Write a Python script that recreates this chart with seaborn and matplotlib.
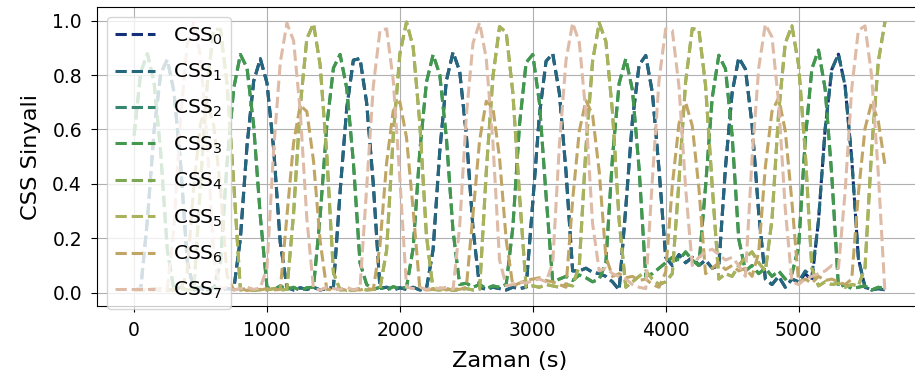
import numpy as np
import pandas as pd
import matplotlib
matplotlib.use("Agg")
import matplotlib.pyplot as plt
import seaborn as sns

# zaman ekseni (s), 50 s aralikla ornekler
zaman = np.arange(0, 5651, 50)

# CSS sinyalleri
css1 = [.01, .015, .266, .593, .805, .857, .739, .475, .115, .01,
        .015, .008, .02, .01, .015, .012, .20, .542, .778, .86,
        .771, .53, .184, .02, .01, .018, .012, .02, .01, .015,
        .02, .37, .678, .855, .861, .698, .399, .016, .02, .01,
        .018, .012, .02, .01, .015, .158, .52, .78, .884, .814,
        .581, .237, .02, .012, .02, .015, .01, .02, .015, .02,
        .332, .654, .851, .879, .734, .445, .08, .08, .09, .075,
        .07, .06, .04, .01, .314, .635, .837, .872, .735, .453,
        .13, .10, .14, .11, .13, .10, .12, .09, .10, .461,
        .735, .864, .822, .618, .293, .05, .03, .06, .02, .05,
        .04, .08, .06, .265, .602, .821, .877, .76, .492, .126,
        .02, .01, .015, .01]
css0 = [.01, .015, .266, .593, .805, .857, .739, .475, .115, .01,
        .015, .008, .02, .01, .015, .012, .20, .542, .778, .86,
        .771, .53, .184, .02, .01, .018, .012, .02, .01, .015,
        .02, .37, .678, .855, .861, .698, .399, .016, .02, .01,
        .018, .012, .02, .01, .015, .158, .52, .78, .884, .814,
        .581, .237, .02, .012, .02, .015, .01, .02, .015, .02,
        .332, .654, .851, .879, .734, .445, .08, .08, .09, .075,
        .07, .06, .04, .01, .314, .635, .837, .872, .735, .453,
        .13, .10, .14, .11, .13, .10, .12, .09, .10, .461,
        .735, .864, .822, .618, .293, .05, .03, .06, .02, .05,
        .04, .07, .045, .265, .602, .821, .877, .76, .492, .126,
        .02, .01, .015, .01]
css3 = [.578, .81, .879, .775, .517, .157, .01, .02, .008, .015,
        .02, .01, .018, .11, .48, .752, .876, .826, .613, .28,
        .02, .01, .025, .012, .02, .008, .018, .02, .28, .613,
        .826, .876, .752, .48, .11, .03, .012, .02, .01, .022,
        .015, .02, .164, .521, .774, .875, .802, .569, .227, .03,
        .035, .02, .03, .015, .025, .02, .03, .24, .617, .846,
        .876, .699, .357, .04, .05, .06, .045, .065, .055, .04,
        .05, .11, .50, .77, .86, .745, .456, .06, .07, .09,
        .11, .13, .12, .15, .12, .10, .39, .716, .873, .823,
        .578, .197, .08, .10, .07, .09, .06, .08, .05, .07,
        .166, .561, .823, .892, .749, .43, .02, .03, .015, .02,
        .025, .01, .02, .015]
css2 = [.578, .81, .879, .775, .517, .157, .01, .02, .008, .015,
        .02, .01, .018, .11, .48, .752, .876, .826, .613, .28,
        .02, .01, .025, .012, .02, .008, .018, .02, .28, .613,
        .826, .876, .752, .48, .11, .03, .012, .02, .01, .022,
        .015, .02, .164, .521, .774, .875, .802, .569, .227, .03,
        .035, .02, .03, .015, .025, .02, .03, .24, .617, .846,
        .876, .699, .357, .04, .05, .06, .045, .065, .055, .04,
        .05, .11, .50, .77, .86, .745, .456, .06, .07, .09,
        .11, .13, .12, .15, .12, .10, .39, .716, .873, .823,
        .578, .197, .08, .10, .07, .09, .06, .08, .05, .07,
        .166, .561, .823, .892, .749, .43, .02, .03, .015, .02,
        .025, .01, .02, .015]
css5 = [.008, .012, .01, .015, .008, .012, .01, .015, .01, .012,
        .402, .765, .968, .968, .765, .402, .01, .015, .008, .012,
        .01, .015, .01, .012, .29, .683, .934, .989, .837, .507,
        .074, .01, .012, .008, .015, .01, .012, .015, .155, .577,
        .878, .995, .903, .622, .209, .012, .01, .015, .008, .012,
        .015, .01, .012, .444, .794, .978, .957, .735, .359, .02,
        .025, .02, .03, .025, .02, .03, .025, .10, .532, .851,
        .992, .924, .663, .264, .02, .04, .06, .08, .05, .03,
        .04, .07, .41, .775, .971, .966, .762, .394, .05, .07,
        .06, .10, .13, .15, .11, .08, .269, .663, .918, .981,
        .837, .519, .09, .025, .04, .03, .035, .02, .03, .025,
        .092, .527, .85, .996]
css4 = [.008, .012, .01, .015, .008, .012, .01, .015, .01, .012,
        .402, .765, .968, .968, .765, .402, .01, .015, .008, .012,
        .01, .015, .01, .012, .29, .683, .934, .989, .837, .507,
        .074, .01, .012, .008, .015, .01, .012, .015, .155, .577,
        .878, .995, .903, .622, .209, .012, .01, .015, .008, .012,
        .015, .01, .012, .444, .794, .978, .957, .735, .359, .02,
        .025, .02, .03, .025, .02, .03, .025, .10, .532, .851,
        .992, .924, .663, .264, .02, .04, .06, .08, .05, .03,
        .04, .07, .41, .775, .971, .966, .762, .394, .05, .07,
        .06, .10, .13, .15, .11, .08, .269, .663, .918, .981,
        .837, .519, .09, .025, .04, .03, .035, .02, .03, .025,
        .092, .527, .85, .996]
css6 = [.01, .008, .012, .01, .015, .008, .012, .01, .076, .395,
        .621, .70, .614, .384, .062, .01, .015, .008, .012, .01,
        .015, .01, .012, .281, .55, .689, .666, .485, .19, .012,
        .01, .015, .008, .012, .01, .015, .012, .173, .477, .669,
        .702, .57, .304, .015, .01, .012, .018, .01, .015, .012,
        .02, .287, .561, .704, .68, .495, .194, .025, .035, .045,
        .05, .055, .045, .04, .03, .02, .341, .594, .707, .653,
        .445, .131, .06, .07, .055, .06, .045, .05, .03, .02,
        .076, .395, .621, .70, .614, .384, .07, .09, .11, .085,
        .10, .08, .09, .06, .148, .462, .667, .716, .595, .333,
        .04, .05, .035, .06, .045, .05, .04, .03, .05, .365,
        .604, .70, .63, .47]
css7 = [.01, .015, .008, .012, .01, .015, .237, .643, .914, .994,
        .866, .555, .128, .012, .02, .01, .015, .02, .012, .018,
        .092, .524, .846, .991, .927, .67, .272, .015, .01, .02,
        .015, .012, .02, .01, .018, .385, .759, .964, .97, .781,
        .418, .02, .015, .02, .012, .018, .015, .02, .012, .245,
        .65, .917, .993, .861, .553, .12, .025, .03, .04, .035,
        .045, .05, .04, .11, .54, .854, .992, .92, .657, .254,
        .08, .09, .07, .06, .05, .03, .02, .015, .418, .781,
        .97, .964, .759, .385, .10, .13, .15, .16, .14, .12,
        .13, .10, .06, .493, .826, .987, .94, .697, .307, .04,
        .03, .05, .06, .07, .08, .10, .09, .37, .75, .965,
        .981, .796, .437, .0]

sensorler = ["CSS0", "CSS1", "CSS2", "CSS3", "CSS4", "CSS5", "CSS6", "CSS7"]
etiketler = [r"CSS$_{%d}$" % i for i in range(8)]

df = pd.DataFrame({"Zaman": zaman, "CSS0": css0, "CSS1": css1, "CSS2": css2,
                   "CSS3": css3, "CSS4": css4, "CSS5": css5, "CSS6": css6,
                   "CSS7": css7})
df_long = df.melt(id_vars="Zaman", var_name="Sensor", value_name="Sinyal")

renkler = sns.color_palette("gist_earth", 8)

fig = plt.figure(figsize=(9.15, 3.76), dpi=100)
ax = fig.add_axes([0.1055, 0.1854, 0.9027, 0.7957])

sns.lineplot(data=df_long, x="Zaman", y="Sinyal", hue="Sensor",
             hue_order=sensorler, palette=renkler, estimator=None,
             linestyle="--", linewidth=2.2, legend=False, ax=ax)

ax.set_ylim(-0.05, 1.05)
ax.grid(True)
ax.set_xlabel("Zaman (s)", fontsize=16.2, labelpad=8)
ax.set_ylabel("CSS Sinyali", fontsize=16.2, labelpad=8)
ax.tick_params(labelsize=13.5, length=4.5, pad=6)

cizgiler = ax.get_lines()[:8]
ax.legend(cizgiler, etiketler, loc="upper left", fontsize=14.5,
          labelspacing=0.75, handletextpad=0.9)

plt.savefig("out.png", dpi=100)
plt.close()
